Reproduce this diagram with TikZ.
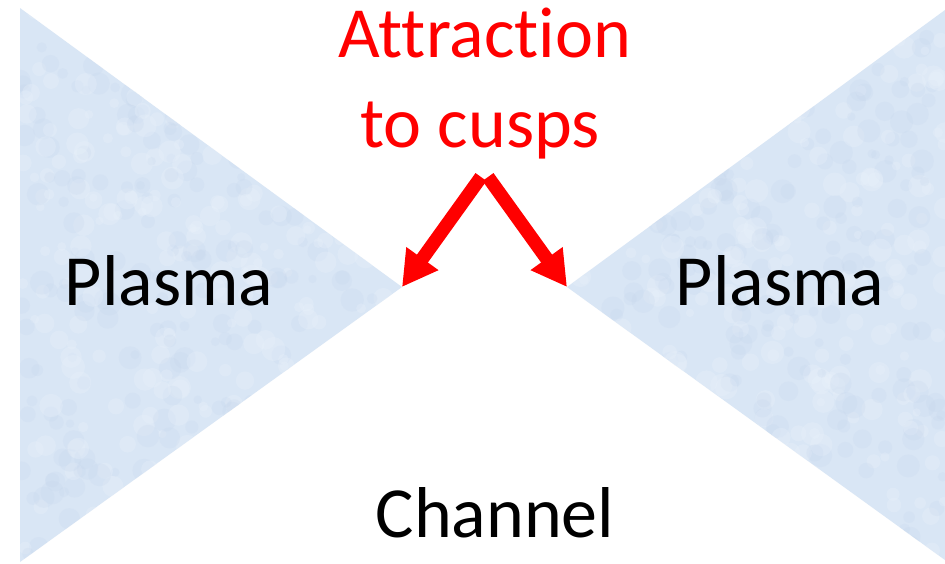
\documentclass[tikz,border=0pt]{standalone}
\usepackage{fontspec}
\setmainfont{Carlito}[Ligatures=NoCommon]
\usetikzlibrary{arrows.meta}
\definecolor{plasmablue}{RGB}{217,230,245}
\definecolor{plasmadark}{RGB}{196,213,236}
\definecolor{plasmalight}{RGB}{234,242,251}
\definecolor{cuspred}{RGB}{255,0,0}
\begin{document}
\begin{tikzpicture}[x=1pt,y=-1pt,
  lbl/.style={font=\fontsize{72}{89}\selectfont, inner sep=0pt, anchor=base},
  cusparrow/.style={draw=cuspred, line width=13.5pt, -{Triangle[length=35pt,width=37pt]}},
  plasmafill/.style={fill=plasmablue},
]
\useasboundingbox (0,0) rectangle (945,563);
\fill[white] (0,0) rectangle (945,563);
% left plasma wedge
\coordinate (L1) at (20,8);
\coordinate (L2) at (20,562);
\coordinate (L3) at (402,287);
% right plasma wedge
\coordinate (R1) at (945,10);
\coordinate (R2) at (945,560);
\coordinate (R3) at (567,287);
\fill[plasmafill] (L1) -- (L2) -- (L3) -- cycle;
\fill[plasmafill] (R1) -- (R2) -- (R3) -- cycle;
\pgfmathsetseed{7}
\begin{scope}
  \clip (L1) -- (L2) -- (L3) -- cycle;
  \foreach \i in {1,...,300} {
    \pgfmathsetmacro\px{20+rnd*385}
    \pgfmathsetmacro\py{8+rnd*555}
    \pgfmathsetmacro\pr{4+rnd*8}
    \fill[plasmadark, opacity=0.22] (\px,\py) circle[radius=\pr pt];
    \pgfmathsetmacro\qx{20+rnd*385}
    \pgfmathsetmacro\qy{8+rnd*555}
    \fill[plasmalight, opacity=0.3] (\qx,\qy) circle[radius=\pr pt];
  }
\end{scope}
\begin{scope}
  \clip (R1) -- (R2) -- (R3) -- cycle;
  \foreach \i in {1,...,300} {
    \pgfmathsetmacro\px{565+rnd*380}
    \pgfmathsetmacro\py{8+rnd*555}
    \pgfmathsetmacro\pr{4+rnd*8}
    \fill[plasmadark, opacity=0.22] (\px,\py) circle[radius=\pr pt];
    \pgfmathsetmacro\qx{565+rnd*380}
    \pgfmathsetmacro\qy{8+rnd*555}
    \fill[plasmalight, opacity=0.3] (\qx,\qy) circle[radius=\pr pt];
  }
\end{scope}
% labels
\node[lbl] (plasmaL) at (169,305) {Plasma};
\node[lbl] (plasmaR) at (780,305) {Plasma};
\node[lbl] (channel) at (495,537) {Channel};
\node[lbl, text=cuspred] (attr1) at (485,57) {Attraction};
\node[lbl, text=cuspred] (attr2) at (480,147) {to cusps};
% arrows
\coordinate (AL) at (481,177);
\coordinate (AR) at (488,177);
\draw[cusparrow] (AL) -- (L3);
\draw[cusparrow] (AR) -- (R3);
\end{tikzpicture}
\end{document}
